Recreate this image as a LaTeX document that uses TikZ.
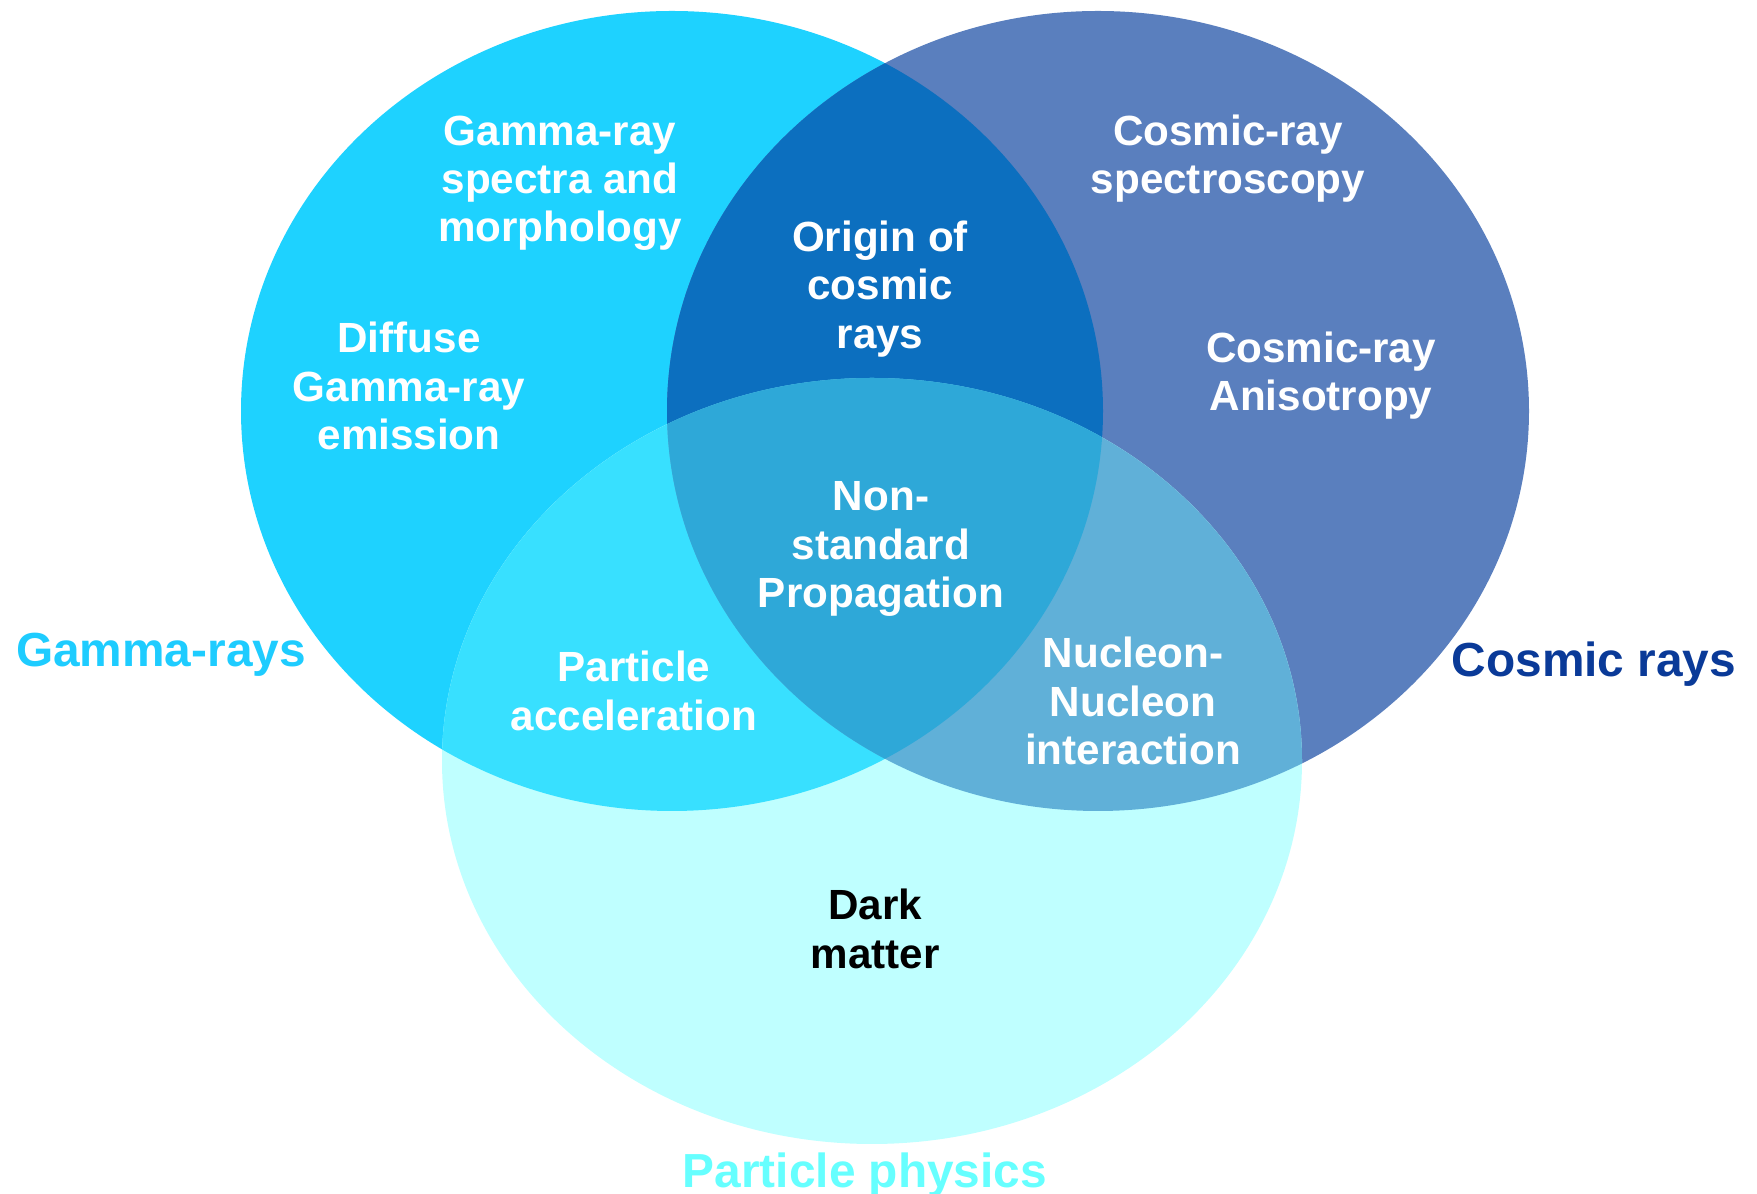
\documentclass[tikz,border=0pt]{standalone}
\usepackage{fontspec}
\setmainfont{Liberation Sans}

\definecolor{gammafill}{HTML}{1ED2FF}
\definecolor{cosmicfill}{HTML}{5A7FBE}
\definecolor{particlefill}{HTML}{BFFFFF}
\definecolor{gammacosmic}{HTML}{0C6FBF}
\definecolor{gammaparticle}{HTML}{38E0FF}
\definecolor{cosmicparticle}{HTML}{60B0D8}
\definecolor{allthree}{HTML}{2EA8D8}
\definecolor{gammatext}{HTML}{1ECCFF}
\definecolor{cosmictext}{HTML}{0A3A98}
\definecolor{particletext}{HTML}{66FFFF}

\def\gammaset{(672,783) ellipse [x radius=431, y radius=400]}
\def\cosmicset{(1098,783) ellipse [x radius=431, y radius=400]}
\def\particleset{(872,433) ellipse [x radius=430, y radius=383]}

\begin{document}
\begin{tikzpicture}[x=0.01cm, y=0.01cm,
  topic/.style={align=center, text=white, font=\fontsize{12}{13.7}\selectfont\bfseries},
  setname/.style={anchor=base, font=\fontsize{13.6}{16}\selectfont\bfseries}]
  \useasboundingbox (0,0) rectangle (1757,1194);

  % the three sets
  \fill[gammafill] \gammaset;
  \fill[cosmicfill] \cosmicset;
  \fill[particlefill] \particleset;
  % pairwise overlaps
  \begin{scope}
    \clip \gammaset;
    \fill[gammacosmic] \cosmicset;
    \fill[gammaparticle] \particleset;
  \end{scope}
  \begin{scope}
    \clip \cosmicset;
    \fill[cosmicparticle] \particleset;
  \end{scope}
  % centre
  \begin{scope}
    \clip \gammaset;
    \clip \cosmicset;
    \fill[allthree] \particleset;
  \end{scope}

  \node[topic] (spectra) at (560,1011) {Gamma-ray\\spectra and\\morphology};
  \node[topic] (diffuse) at (409,808) {Diffuse\\Gamma-ray\\emission};
  \node[topic] (origin) at (880,905) {Origin of\\cosmic\\rays};
  \node[topic] (spectroscopy) at (1228,1035) {Cosmic-ray\\spectroscopy};
  \node[topic] (anisotropy) at (1321,818) {Cosmic-ray\\Anisotropy};
  \node[topic] (propagation) at (881,645) {Non-\\standard\\Propagation};
  \node[topic] (acceleration) at (634,503) {Particle\\acceleration};
  \node[topic] (nucleon) at (1133,493) {Nucleon-\\Nucleon\\interaction};
  \node[topic, text=black] (darkmatter) at (875,265) {Dark\\matter};

  \node[setname, text=gammatext] (gammalabel) at (161,527) {Gamma-rays};
  \node[setname, text=cosmictext] (cosmiclabel) at (1594,517) {Cosmic rays};
  \node[setname, text=particletext] (particlelabel) at (865,6) {Particle physics};
\end{tikzpicture}
\end{document}
